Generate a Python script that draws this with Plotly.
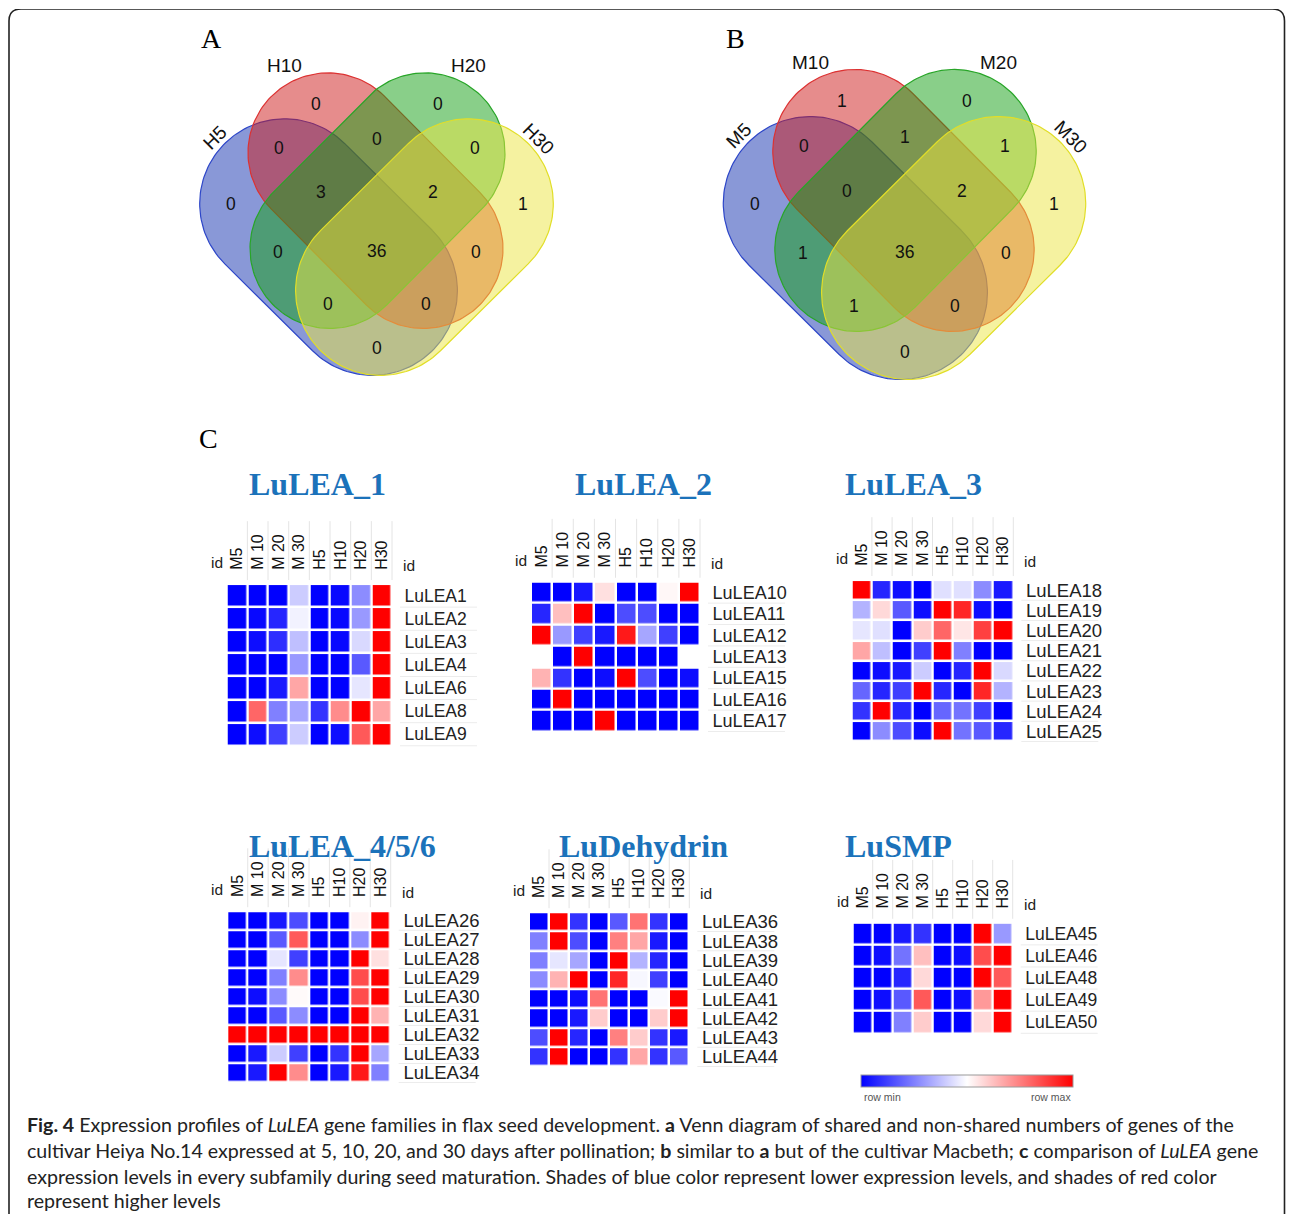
import numpy as np
import plotly.graph_objects as go

VIEW_W, VIEW_H = 1295, 1223
OFF = 8  # page body margin of the exported html
W, H = VIEW_W - 2 * OFF, VIEW_H - 2 * OFF  # figure size that fits without scrollbars

# ---------------- DATA ----------------
VENN_A_SETS = ["H5", "H10", "H20", "H30"]
VENN_B_SETS = ["M5", "M10", "M20", "M30"]
# region order: 10only, 20only, 5&10, 10&20, 20&30, 5only, 5&10&20, 10&20&30,
#               30only, 5&20, all, 10&30, 5&20&30, 5&10&30, 5&30
VENN_A_COUNTS = [0, 0, 0, 0, 0, 0, 3, 2, 1, 0, 36, 0, 0, 0, 0]
VENN_B_COUNTS = [1, 0, 0, 1, 1, 0, 0, 2, 1, 1, 36, 0, 1, 0, 0]

COLS = ["M5", "M 10", "M 20", "M 30", "H5", "H10", "H20", "H30"]

HM1_TITLE = "LuLEA_1"
HM1_ROWS = ["LuLEA1", "LuLEA2", "LuLEA3", "LuLEA4", "LuLEA6", "LuLEA8", "LuLEA9"]
HM1_VALS = [
    [-1, -1, -1, -0.2, -1, -0.97, -0.45, 1],
    [-1, -0.97, -0.85, -0.05, -1, -0.97, -0.4, 1],
    [-1, -0.95, -0.82, -0.25, -1, -0.97, -0.15, 1],
    [-1, -1, -1, -0.4, -1, -1, -0.65, 1],
    [-1, -1, -0.9, 0.35, -1, -1, -0.1, 1],
    [-1, 0.6, -0.5, -0.35, -0.8, 0.45, 1, 0.35],
    [-1, -0.95, -0.75, -0.2, -1, -0.95, 0.65, 1],
]

HM2_TITLE = "LuLEA_2"
HM2_ROWS = ["LuLEA10", "LuLEA11", "LuLEA12", "LuLEA13", "LuLEA15", "LuLEA16", "LuLEA17"]
HM2_VALS = [
    [-1, -1, -0.9, 0.12, -1, -1, 0.03, 1],
    [-0.85, 0.25, 1, -1, -0.7, -0.7, -1, -1],
    [1, -0.4, -0.75, -0.9, 0.9, -0.35, -0.75, -1],
    [0, -1, 1, -1, -1, -1, -1, 0],
    [0.3, -0.8, -1, -0.95, 1, -0.7, -1, -0.95],
    [-1, 1, -1, -1, -1, -1, -1, -1],
    [-1, -1, -1, 1, -1, -1, -1, -1],
]

HM3_TITLE = "LuLEA_3"
HM3_ROWS = ["LuLEA18", "LuLEA19", "LuLEA20", "LuLEA21", "LuLEA22", "LuLEA23", "LuLEA24", "LuLEA25"]
HM3_VALS = [
    [1, -0.85, -0.95, -1, -0.12, -0.12, -0.45, -0.9],
    [-0.3, 0.15, -0.65, -0.95, 1, 0.85, -0.95, -1],
    [-0.1, -0.12, -1, 0.2, 0.6, 0.1, 0.75, 1],
    [0.35, -0.25, -1, -0.75, 1, -0.5, -1, -1],
    [-1, -0.95, -0.9, -0.2, -1, -0.85, 1, -0.15],
    [-0.6, -0.85, -0.75, 1, -0.85, -1, 0.85, -0.3],
    [-0.8, 1, -0.85, -1, -0.6, -0.55, -0.75, -1],
    [-1, -0.45, -0.7, -0.95, 1, -0.55, -0.65, -0.85],
]

HM4_TITLE = "LuLEA_4/5/6"
HM4_ROWS = ["LuLEA26", "LuLEA27", "LuLEA28", "LuLEA29", "LuLEA30", "LuLEA31", "LuLEA32", "LuLEA33", "LuLEA34"]
HM4_VALS = [
    [-1, -1, -0.9, -0.7, -1, -1, 0.05, 1],
    [-1, -1, -0.65, 0.65, -1, -1, -0.45, 1],
    [-1, -1, -0.1, -0.75, -1, -1, 1, 0.12],
    [-1, -1, -0.5, 0.45, -1, -1, 0.7, 1],
    [-1, -0.95, -0.45, 0.02, -1, -1, 0.7, 1],
    [-1, -1, -0.65, -0.45, -1, -1, 1, 0.3],
    [1, 1, 1, 1, 1, 1, 1, 1],
    [-1, -0.9, -0.2, -0.75, -1, -0.8, 1, -0.35],
    [-1, -0.9, 1, 0.45, -1, -0.9, 0.9, -0.5],
]

HM5_TITLE = "LuDehydrin"
HM5_ROWS = ["LuLEA36", "LuLEA38", "LuLEA39", "LuLEA40", "LuLEA41", "LuLEA42", "LuLEA43", "LuLEA44"]
HM5_VALS = [
    [-1, 1, -0.8, -1, -0.65, 0.55, -0.8, -1],
    [-0.5, 1, -0.7, -1, 0.5, 0.35, -0.9, -1],
    [-0.5, -0.1, -0.35, -1, 1, -0.3, -0.85, -1],
    [-0.45, 0.3, 1, -1, 0.85, -0.03, -0.75, -1],
    [-1, -1, -0.95, 0.55, -1, -1, -0.02, 1],
    [-1, -1, -0.9, 0.2, -1, -1, 0.2, 1],
    [-0.7, 1, -0.85, -1, 0.5, 0.2, -0.8, -0.9],
    [-0.8, 1, -1, -1, -0.8, 0.35, -0.8, -0.65],
]

HM6_TITLE = "LuSMP"
HM6_ROWS = ["LuLEA45", "LuLEA46", "LuLEA48", "LuLEA49", "LuLEA50"]
HM6_VALS = [
    [-1, -1, -0.9, -0.8, -1, -1, 1, -0.4],
    [-1, -0.95, -0.55, 0.25, -1, -0.95, 0.7, 1],
    [-1, -1, -0.85, 0.15, -1, -1, 1, 0.65],
    [-1, -0.95, -0.65, 0.65, -1, -0.95, 0.4, 1],
    [-1, -1, -0.5, 0.2, -1, -1, 0.15, 1],
]

# ---------------- LAYOUT CONSTANTS ----------------
HEATMAPS = [
    (HM1_TITLE, HM1_ROWS, HM1_VALS),
    (HM2_TITLE, HM2_ROWS, HM2_VALS),
    (HM3_TITLE, HM3_ROWS, HM3_VALS),
    (HM4_TITLE, HM4_ROWS, HM4_VALS),
    (HM5_TITLE, HM5_ROWS, HM5_VALS),
    (HM6_TITLE, HM6_ROWS, HM6_VALS),
]
HM_BOXES = [
    (226.7, 584, 392, 746),
    (531, 581.7, 700, 731.7),
    (851.7, 580, 1013.3, 741.7),
    (227.3, 911.7, 390.7, 1083.3),
    (529, 912.7, 689.3, 1067.3),
    (852.7, 923.3, 1012.7, 1034),
]
HM_LABEL_SIZE = [17.5, 18, 18.5, 18.5, 18.5, 17.5]
TITLE_POS = [(247, 484, "left"), (643, 484, "center"), (843, 484, "left"),
             (247, 846, "left"), (643, 846, "center"), (843, 846, "left")]
TITLE_COLOR = "#1B72BA"

VENN_CENTERS = [(376.5, 250, 1.0), (904.5, 251, 1.025)]
VENN_GEOM = [  # c1, c2, radius (relative to centre)
    ((-91.8, -47), (-4.1, 40), 85),
    ((-48.5, -98), (46.5, -2), 80),
    ((48.5, -98), (-46.5, -2), 80),
    ((91.8, -47), (4.1, 40), 85),
]
VENN_FILL = ["rgba(20,50,175,0.5)", "rgba(205,25,25,0.5)",
             "rgba(20,160,20,0.5)", "rgba(235,230,65,0.5)"]
VENN_LINE = ["rgb(45,70,200)", "rgb(220,50,50)", "rgb(40,165,40)", "rgb(225,222,40)"]
REGION_OFFSETS = [(-61, -147), (61, -147), (-98, -103), (0, -112), (98, -103),
                  (-146, -47), (-56, -59), (56, -59), (146, -47), (-99, 1),
                  (0, 0), (99, 1), (-49, 53), (49, 53), (0, 98)]
SET_LABEL_POS = [(-161.5, -113, -45), (-92, -185, 0), (92, -185, 0), (161.5, -112, 45)]

CSCALE = [[0, "rgb(0,0,255)"], [0.5, "rgb(255,255,255)"], [1, "rgb(255,0,0)"]]

fig = go.Figure()
annotations = []
shapes = []


def px_x(x):
    return (x - OFF) / W


def px_y(y):
    return 1 - (y - OFF) / H


def ann(x, y, text, size, xanchor="center", yanchor="middle", family="Liberation Sans",
        color="#111", angle=0):
    annotations.append(dict(x=x, y=y, xref="x", yref="y", text=text, showarrow=False,
                            xanchor=xanchor, yanchor=yanchor, textangle=angle,
                            font=dict(size=size, family=family, color=color)))


def capsule(c1, c2, r, n=80):
    c1 = np.array(c1, float)
    c2 = np.array(c2, float)
    d = c2 - c1
    phi = np.arctan2(d[1], d[0])
    a1 = np.linspace(phi - np.pi / 2, phi + np.pi / 2, n)
    a2 = np.linspace(phi + np.pi / 2, phi + 3 * np.pi / 2, n)
    pts = np.vstack([c2 + r * np.c_[np.cos(a1), np.sin(a1)],
                     c1 + r * np.c_[np.cos(a2), np.sin(a2)]])
    pts = np.vstack([pts, pts[:1]])
    return pts[:, 0], pts[:, 1]


# ---------------- VENN ----------------
for (cx, cy, sc), sets, counts, letter in zip(VENN_CENTERS, [VENN_A_SETS, VENN_B_SETS],
                                             [VENN_A_COUNTS, VENN_B_COUNTS], ["A", "B"]):
    for (c1, c2, r), fc, lc in zip(VENN_GEOM, VENN_FILL, VENN_LINE):
        xs, ys = capsule((cx + c1[0] * sc, cy + c1[1] * sc), (cx + c2[0] * sc, cy + c2[1] * sc), r * sc)
        fig.add_trace(go.Scatter(x=xs, y=ys, mode="lines", fill="toself", fillcolor=fc,
                                 line=dict(color=lc, width=1.2), hoverinfo="skip",
                                 showlegend=False, xaxis="x", yaxis="y"))
    for (dx, dy), c in zip(REGION_OFFSETS, counts):
        ann(cx + dx * sc, cy + dy * sc, str(c), 17.5)
    for (dx, dy, ang), s in zip(SET_LABEL_POS, sets):
        ann(cx + dx * sc, cy + dy * sc, s, 19, angle=ang)
    ann(cx - 165 * sc, 38, letter, 28, family="Liberation Serif", color="#000")

ann(208, 438, "C", 28, family="Liberation Serif", color="#000")

# ---------------- HEATMAPS ----------------
layout_axes = {}
for i, ((title, rows, vals), (x0, y0, x1, y1), lsz, (tx, ty, tanc)) in enumerate(
        zip(HEATMAPS, HM_BOXES, HM_LABEL_SIZE, TITLE_POS)):
    k = i + 2
    n = len(rows)
    show = (i == 5)
    hm = go.Heatmap(z=vals, x=list(range(8)), y=list(range(n)), zmin=-1, zmax=1,
                    colorscale=CSCALE, xgap=2.5, ygap=2.5, showscale=show,
                    hoverinfo="skip", xaxis=f"x{k}", yaxis=f"y{k}")
    if show:
        hm.colorbar = dict(orientation="h", x=px_x(966.7), xanchor="center",
                           y=px_y(1088.3), yanchor="bottom", len=212 / W, lenmode="fraction",
                           thickness=11.5, thicknessmode="pixels", outlinewidth=1,
                           outlinecolor="#9a9a9a", showticklabels=False, ticks="",
                           xpad=0, ypad=0)
    fig.add_trace(hm)
    layout_axes[f"xaxis{k}"] = dict(domain=[px_x(x0), px_x(x1)], range=[-0.5, 7.5], anchor=f"y{k}",
                                    side="top", tickvals=list(range(8)), ticktext=COLS,
                                    tickangle=-90, ticks="outside", ticklen=10,
                                    tickcolor="rgba(0,0,0,0)", showgrid=False, zeroline=False,
                                    showline=False, fixedrange=True,
                                    tickfont=dict(size=16, family="Liberation Sans", color="#111"))
    layout_axes[f"yaxis{k}"] = dict(domain=[px_y(y1), px_y(y0)], range=[n - 0.5, -0.5],
                                    anchor=f"x{k}", side="right", tickvals=list(range(n)),
                                    ticktext=rows, ticks="outside", ticklen=8,
                                    tickcolor="rgba(0,0,0,0)", showgrid=False, zeroline=False,
                                    showline=False, fixedrange=True,
                                    tickfont=dict(size=lsz, family="Liberation Sans", color="#222"))
    # title
    ann(tx, ty, f"<b>{title}</b>", 32, xanchor=tanc, family="Liberation Serif", color=TITLE_COLOR)
    # id labels
    ann(x0 - 2, y0 - 11, "id", 15.5, xanchor="right", yanchor="bottom", color="#222")
    ann(x1 + 9, y0 - 8, "id", 15.5, xanchor="left", yanchor="bottom", color="#222")
    cw = (x1 - x0) / 8
    rh = (y1 - y0) / n
    for j in range(1, 9):
        xx = x0 + j * cw
        shapes.append(dict(type="line", xref="x", yref="y", x0=xx, x1=xx, y0=y0 - 63, y1=y0 - 4,
                           line=dict(color="#e4e4e4", width=1), layer="above"))
    for j in range(1, n + 1):
        yy = y0 + j * rh
        shapes.append(dict(type="line", xref="x", yref="y", x0=x1 + 8, x1=x1 + 85, y0=yy, y1=yy,
                           line=dict(color="#ececec", width=1), layer="above"))

ann(862, 1098, "row min", 10.5, xanchor="left", color="#555")
ann(1073, 1098, "row max", 10.5, xanchor="right", color="#555")

# ---------------- CAPTION ----------------
CAPTION_LINES = [
    "<b>Fig. 4</b> Expression profiles of <i>LuLEA</i> gene families in flax seed development. "
    "<b>a</b> Venn diagram of shared and non-shared numbers of genes of the",
    "cultivar Heiya No.14 expressed at 5, 10, 20, and 30 days after pollination; <b>b</b> similar to "
    "<b>a</b> but of the cultivar Macbeth; <b>c</b> comparison of <i>LuLEA</i> gene",
    "expression levels in every subfamily during seed maturation. Shades of blue color represent "
    "lower expression levels, and shades of red color",
    "represent higher levels",
]
for line, yy in zip(CAPTION_LINES, [1125, 1151.5, 1177.5, 1201.5]):
    ann(25, yy, line, 19.6, xanchor="left", family="Lato", color="#222")

# frame
RIGHT = OFF + W - 2.5
shapes.append(dict(type="path", xref="x", yref="y",
                   path=f"M 9 1260 L 9 20 Q 9 8 21 8 L {RIGHT - 12} 8 Q {RIGHT} 8 {RIGHT} 20 L {RIGHT} 1260",
                   line=dict(color="#222", width=1.6), layer="above"))

fig.update_layout(
    width=W, height=H, margin=dict(l=0, r=0, t=0, b=0),
    paper_bgcolor="white", plot_bgcolor="white", showlegend=False,
    xaxis=dict(domain=[0, 1], range=[OFF, OFF + W], visible=False, fixedrange=True),
    yaxis=dict(domain=[0, 1], range=[OFF + H, OFF], visible=False, fixedrange=True),
    annotations=annotations, shapes=shapes, **layout_axes,
)

fig.write_html("out.html")
